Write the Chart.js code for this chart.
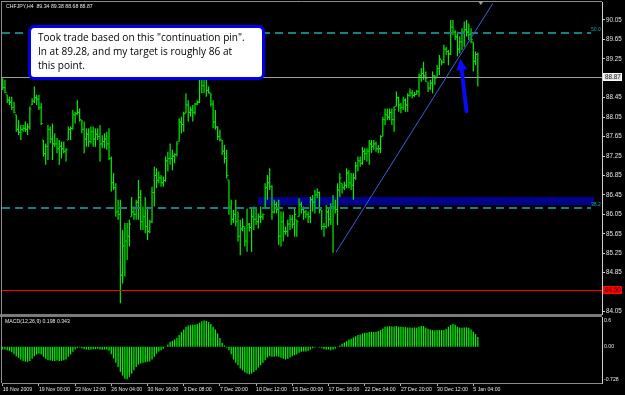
<!DOCTYPE html>
<html><head><meta charset="utf-8">
<script src="https://cdn.jsdelivr.net/npm/chart.js@4.4.1/dist/chart.umd.min.js"></script>
<style>
html,body{margin:0;padding:0;background:#000;overflow:hidden}
#wrap{position:relative;width:625px;height:395px;background:#000}
#a{position:absolute;left:0;top:0;width:625px;height:316px}
#b{position:absolute;left:0;top:316px;width:625px;height:79px}
</style></head><body>
<div id="wrap"><div id="a"><canvas id="ca"></canvas></div><div id="b"><canvas id="cb"></canvas></div></div>
<script>
// ---------------- DATA ----------------
const symbolTitle = 'CHFJPY,H4  89.34 89.38 88.68 88.87';
const macdTitle = 'MACD(12,26,9) 0.198 0.343';
const firstOpen = 88.80;
const highs = [
88.85,88.82,88.51,88.47,88.47,88.37,88.10,87.99,87.89,87.89,
87.96,87.92,88.27,88.44,88.68,88.51,88.51,88.34,87.58,87.51,
87.89,87.86,87.92,87.72,87.62,87.58,87.55,87.55,87.41,87.86,
87.86,88.20,88.16,88.40,88.23,87.99,87.96,87.82,87.82,87.86,
87.86,87.82,87.82,87.89,87.68,87.72,87.75,87.82,87.24,86.90,
86.69,86.35,86.35,85.73,85.87,85.87,85.94,86.41,86.21,86.35,
86.76,86.55,86.21,86.41,86.21,85.94,86.62,87.03,87.00,86.93,
86.86,86.83,87.24,87.34,87.51,87.38,87.31,87.55,88.03,88.06,
88.16,88.54,88.40,88.27,88.30,88.34,88.40,89.00,89.10,89.00,
89.05,88.68,88.54,88.40,88.20,87.86,87.79,87.58,87.48,87.38,
86.76,86.35,86.14,86.35,86.11,85.94,85.97,85.80,86.17,85.87,
86.17,86.21,86.17,86.07,86.21,86.07,86.69,86.86,87.00,86.65,
86.35,86.31,86.35,86.11,86.11,85.80,85.94,86.04,86.04,86.17,
85.94,86.38,86.31,86.21,86.14,86.11,86.41,86.45,86.55,86.59,
86.52,86.14,85.87,86.24,86.17,86.28,86.45,86.35,86.69,86.90,
86.69,86.72,87.00,86.96,86.90,86.90,87.13,87.24,87.24,87.44,
87.41,87.41,87.58,87.58,87.58,87.55,87.48,87.68,88.06,88.23,
88.23,88.23,88.23,88.27,88.58,88.47,88.34,88.47,88.44,88.54,
88.64,88.61,88.57,88.61,88.95,89.06,89.19,88.99,88.78,88.82,
88.99,88.92,89.12,89.33,89.23,89.54,89.50,89.43,90.05,90.05,
89.84,89.81,89.71,89.88,90.02,90.05,89.98,89.88,89.60,89.40,
89.38];
const lows = [
88.61,88.54,88.34,88.30,88.20,88.13,87.75,87.68,87.58,87.75,
87.75,87.68,87.79,88.30,88.34,88.30,88.20,87.89,87.24,87.07,
87.17,87.51,87.17,87.44,87.31,87.07,87.20,87.31,87.14,87.58,
87.58,87.79,87.92,88.10,87.96,87.72,87.31,87.44,87.44,87.51,
87.44,87.44,87.58,87.14,87.41,87.41,87.38,87.17,86.52,86.55,
86.00,85.94,84.22,84.63,84.77,85.11,85.39,86.00,85.94,85.94,
85.94,85.73,85.73,85.66,85.52,85.66,85.87,86.21,86.59,86.69,
86.62,86.62,86.72,86.93,87.07,86.96,87.10,87.24,87.55,87.72,
87.75,88.13,87.96,88.06,87.96,88.10,88.30,88.34,88.54,88.54,
88.47,88.54,88.27,87.82,87.79,87.58,87.55,87.27,87.10,86.79,
86.04,85.83,85.87,85.80,85.49,85.21,85.70,85.39,85.28,85.70,
85.28,85.73,85.83,85.76,85.87,85.94,86.17,86.35,86.55,85.94,
86.07,86.07,85.42,85.39,85.49,85.63,85.59,85.73,85.76,85.59,
85.59,86.00,86.07,85.94,85.97,85.87,85.87,86.11,86.07,86.38,
86.07,85.73,85.59,85.76,85.80,85.83,85.26,86.07,85.83,86.41,
86.48,86.55,86.59,86.59,86.55,86.35,86.76,86.93,87.03,87.07,
87.17,87.14,87.07,87.31,87.38,87.34,87.31,87.31,87.65,87.89,
87.99,87.99,87.89,87.75,88.27,88.16,88.13,88.20,88.16,88.16,
88.47,88.44,88.47,88.51,88.47,88.78,88.82,88.78,88.57,88.61,
88.54,88.71,88.88,88.92,89.12,89.16,89.33,89.12,89.33,89.74,
89.64,89.30,89.36,89.43,89.50,89.71,89.64,89.57,88.99,89.12,
88.68];
const closes = [
88.66,88.56,88.40,88.36,88.25,88.15,87.80,87.74,87.80,87.82,
87.80,87.85,88.22,88.38,88.45,88.42,88.25,87.92,87.30,87.45,
87.80,87.60,87.50,87.50,87.40,87.45,87.40,87.35,87.38,87.80,
87.82,88.10,88.12,88.15,88.00,87.80,87.60,87.70,87.55,87.75,
87.60,87.70,87.65,87.50,87.55,87.60,87.50,87.20,86.70,86.60,
86.10,86.05,84.80,85.40,85.50,85.60,85.85,86.10,86.05,86.30,
86.40,85.90,86.00,85.80,85.70,85.90,86.50,86.85,86.75,86.80,
86.70,86.75,87.15,87.20,87.20,87.25,87.28,87.50,87.95,87.90,
88.12,88.30,88.15,88.20,88.15,88.32,88.36,88.90,88.70,88.85,
88.60,88.56,88.32,87.95,87.85,87.65,87.60,87.35,87.20,86.85,
86.20,85.95,86.05,85.90,85.60,85.75,85.80,85.50,85.85,85.78,
86.00,85.95,85.90,86.00,86.00,86.05,86.60,86.70,86.62,86.10,
86.25,86.15,85.60,85.90,85.70,85.70,85.85,85.95,85.85,86.05,
85.90,86.25,86.15,86.10,86.05,86.00,86.35,86.30,86.45,86.50,
86.15,85.80,85.80,86.10,85.95,86.20,86.20,86.15,86.55,86.80,
86.60,86.65,86.90,86.70,86.65,86.80,87.05,87.15,87.10,87.35,
87.30,87.35,87.50,87.45,87.50,87.40,87.40,87.65,88.00,88.10,
88.05,88.15,88.00,88.20,88.45,88.30,88.25,88.40,88.30,88.50,
88.55,88.50,88.52,88.58,88.90,88.95,88.90,88.85,88.65,88.75,
88.90,88.85,89.05,89.25,89.18,89.45,89.40,89.35,89.90,89.80,
89.70,89.45,89.60,89.80,89.85,89.80,89.75,89.65,89.20,89.34,
88.87];
const macdHist = [
-0.054,-0.054,-0.067,-0.081,-0.108,-0.148,-0.189,-0.222,-0.256,-0.283,
-0.296,-0.303,-0.283,-0.242,-0.189,-0.155,-0.135,-0.155,-0.202,-0.242,
-0.269,-0.276,-0.283,-0.283,-0.276,-0.283,-0.283,-0.269,-0.256,-0.202,
-0.155,-0.101,-0.054,-0.020,-0.013,-0.027,-0.047,-0.054,-0.061,-0.054,
-0.047,-0.047,-0.040,-0.054,-0.061,-0.054,-0.054,-0.081,-0.148,-0.236,
-0.323,-0.404,-0.505,-0.579,-0.640,-0.653,-0.606,-0.539,-0.471,-0.404,
-0.357,-0.337,-0.323,-0.310,-0.303,-0.296,-0.256,-0.202,-0.135,-0.094,
-0.067,-0.040,0.004,0.047,0.101,0.121,0.148,0.175,0.236,0.296,
0.350,0.404,0.431,0.438,0.444,0.444,0.458,0.485,0.512,0.532,
0.519,0.498,0.458,0.404,0.350,0.269,0.175,0.081,0.027,-0.013,
-0.067,-0.148,-0.256,-0.323,-0.370,-0.438,-0.471,-0.512,-0.539,-0.552,
-0.539,-0.505,-0.471,-0.418,-0.370,-0.323,-0.269,-0.215,-0.189,-0.202,
-0.202,-0.189,-0.202,-0.222,-0.242,-0.256,-0.242,-0.215,-0.189,-0.168,
-0.148,-0.121,-0.101,-0.094,-0.094,-0.081,-0.054,-0.027,-0.013,0.003,
-0.013,-0.020,-0.047,-0.054,-0.054,-0.067,-0.054,-0.034,-0.007,0.027,
0.061,0.088,0.114,0.148,0.162,0.189,0.215,0.236,0.249,0.269,
0.283,0.283,0.296,0.303,0.296,0.303,0.316,0.337,0.370,0.404,
0.411,0.418,0.411,0.411,0.418,0.404,0.404,0.397,0.397,0.391,
0.391,0.384,0.391,0.384,0.404,0.418,0.418,0.391,0.364,0.350,
0.337,0.330,0.337,0.337,0.337,0.337,0.364,0.404,0.438,0.458,
0.444,0.404,0.391,0.384,0.391,0.391,0.384,0.350,0.303,0.256,
0.198];
const timeLabels = ['16 Nov 2009','19 Nov 00:00','23 Nov 12:00','26 Nov 04:00','30 Nov 16:00','3 Dec 08:00','7 Dec 20:00','10 Dec 12:00','15 Dec 00:00','17 Dec 16:00','22 Dec 04:00','27 Dec 20:00','30 Dec 12:00','5 Jan 04:00'];
const timeLabelBars = [0,16,32,48,64,80,96,112,128,144,160,176,192,208];
const priceTicks = [90.05,89.65,89.25,88.85,88.45,88.05,87.65,87.25,86.85,86.45,86.05,85.65,85.25,84.85,84.45,84.05];
const macdTickValues = [0.6,0.00,-0.728];
const macdTickLabels = ['0.6','0.00','-0.728'];
const bidPrice = 88.87;
const stopPrice = 84.50;
const fib50 = 89.78, fib382 = 86.19;
const fibLabels = ['50.0','38.2'];
const zoneTop = 86.415, zoneBottom = 86.235;
const trendStart = {x:147.3, y:85.27}, trendEnd = {x:216.6, y:90.39};
const arrowTail = {x:205.0, y:88.17}, arrowTip = {x:202.3, y:89.25};
const noteLines = ['Took trade based on this "continuation pin".','In at 89.28, and my target is roughly 86 at','this point.'];

// ---------------- LAYOUT / STYLE ----------------
const XMIN = -0.31, XMAX = 264.88;
const PMIN = 84.00, PMAX = 90.42;
const MMIN = -0.728, MMAX = 0.6;
const ZONE_X0 = 112.9, ZONE_X1 = 261.3, FIB_X1 = 260.0, SHIFT_X = 211.3;
const SANS = '"Liberation Sans",sans-serif';
const TXT = '#e6e6e6';
const BAR = '#00f000';
const FRAME = '#8c8c8c';

const mctx = document.createElement('canvas').getContext('2d');
function fitSize(text, targetW, base){ mctx.font = base + 'px ' + SANS; return base * targetW / mctx.measureText(text).width; }
const SMALL = fitSize('16 Nov 2009', 29.5, 7);
const PRICE_FS = fitSize('90.05', 15.7, 7);

const opens = closes.map((c,i)=>{
  const prev = i===0 ? firstOpen : closes[i-1];
  return Math.min(highs[i], Math.max(lows[i], prev));
});

function hLine(ctx, y, v, x0, x1, color, dash, w){
  const lw = w || 1;
  const py = Math.round(y.getPixelForValue(v)) + (lw % 2 ? 0.5 : 0);
  ctx.save(); ctx.strokeStyle = color; ctx.lineWidth = lw; ctx.setLineDash(dash || []);
  ctx.beginPath(); ctx.moveTo(x0, py); ctx.lineTo(x1, py); ctx.stroke(); ctx.restore();
}

const mainPlugin = {
  id:'main',
  beforeDatasetsDraw(chart){
    const {ctx, scales:{x,y}} = chart;
    ctx.save();
    ctx.fillStyle = '#00008c';
    const x0 = Math.round(x.getPixelForValue(ZONE_X0)), x1 = Math.round(x.getPixelForValue(ZONE_X1));
    const y0 = Math.round(y.getPixelForValue(zoneTop)), y1 = Math.round(y.getPixelForValue(zoneBottom));
    ctx.fillRect(x0, y0, x1-x0, y1-y0);
    ctx.restore();
  },
  afterDatasetDraw(chart, args){
    if (args.meta.type !== 'bar') return;
    const {ctx, scales:{x,y}, chartArea:ca} = chart;
    ctx.save();
    ctx.fillStyle = BAR;
    for (let i=0;i<highs.length;i++){
      const px = x.getPixelForValue(i);
      ctx.fillRect(px-1.6, y.getPixelForValue(opens[i])-0.5, 1.1, 1);
      ctx.fillRect(px+0.5, y.getPixelForValue(closes[i])-0.5, 1.1, 1);
    }
    ctx.restore();
    hLine(ctx, y, bidPrice, ca.left, ca.right, '#a0a0a0');
    hLine(ctx, y, stopPrice, ca.left, ca.right, '#ff0000');
    hLine(ctx, y, fib50, ca.left, x.getPixelForValue(FIB_X1), '#178080', [8,5], 2);
    hLine(ctx, y, fib382, ca.left, x.getPixelForValue(FIB_X1), '#178080', [8,5], 2);
  },
  afterDraw(chart){
    const {ctx, scales:{x,y}, chartArea:ca} = chart;
    ctx.save();
    ctx.strokeStyle = FRAME; ctx.lineWidth = 1;
    ctx.beginPath(); ctx.moveTo(1, 1.5); ctx.lineTo(ca.right, 1.5); ctx.moveTo(1.5, 1); ctx.lineTo(1.5, 316); ctx.stroke();
    ctx.fillStyle = '#7a7a7a'; ctx.fillRect(0, 314, ca.right, 2);
    ctx.font = SMALL.toFixed(2) + 'px ' + SANS; ctx.fillStyle = '#1aa0a0'; ctx.textAlign = 'right'; ctx.textBaseline = 'bottom';
    ctx.fillText(fibLabels[0], ca.right-1, y.getPixelForValue(fib50)-0.5);
    ctx.fillText(fibLabels[1], ca.right-1, y.getPixelForValue(fib382)-0.5);
    const tx = x.getPixelForValue(arrowTail.x), ty = y.getPixelForValue(arrowTail.y);
    const hx = x.getPixelForValue(arrowTip.x), hy = y.getPixelForValue(arrowTip.y);
    const dx = hx-tx, dy = hy-ty, L = Math.hypot(dx,dy), ux = dx/L, uy = dy/L;
    const headL = 11, headW = 5.5;
    const bx = hx-ux*headL, by = hy-uy*headL;
    ctx.strokeStyle = '#0a0af5'; ctx.fillStyle = '#0a0af5'; ctx.lineWidth = 4; ctx.lineCap = 'round';
    ctx.beginPath(); ctx.moveTo(tx,ty); ctx.lineTo(bx,by); ctx.stroke();
    ctx.beginPath(); ctx.moveTo(hx,hy); ctx.lineTo(bx-uy*headW, by+ux*headW); ctx.lineTo(bx+uy*headW, by-ux*headW); ctx.closePath(); ctx.fill();
    const sx = x.getPixelForValue(SHIFT_X);
    ctx.fillStyle = '#a0a0a0'; ctx.beginPath(); ctx.moveTo(sx-2.5, 1.5); ctx.lineTo(sx+2.5, 1.5); ctx.lineTo(sx, 5); ctx.closePath(); ctx.fill();
    const lab = (v, bg, fg, border) => {
      const py = Math.round(y.getPixelForValue(v));
      ctx.fillStyle = bg; ctx.fillRect(ca.right+1, py-4, 19, 8);
      if (border){ ctx.strokeStyle = border; ctx.lineWidth = 1; ctx.strokeRect(ca.right+1.5, py-3.5, 18, 7); }
      ctx.fillStyle = fg; ctx.font = PRICE_FS.toFixed(2) + 'px ' + SANS; ctx.textAlign='left'; ctx.textBaseline='middle';
      ctx.fillText(v.toFixed(2), ca.right+3, py+0.5);
    };
    lab(bidPrice, '#e4e4e4', '#202020', '#ffffff');
    lab(stopPrice, '#ff0000', '#300000', null);
    ctx.font = SMALL.toFixed(2) + 'px ' + SANS; ctx.fillStyle = TXT; ctx.textAlign='left'; ctx.textBaseline='middle';
    ctx.fillText(symbolTitle, 6, 7);
    const bx0 = ca.left + 26, by0 = ca.top + 23, bw = 237, bh = 55;
    ctx.fillStyle = '#ffffff'; ctx.strokeStyle = '#0000f0'; ctx.lineWidth = 3;
    ctx.beginPath(); ctx.roundRect(bx0+1.5, by0+1.5, bw-3, bh-3, 5); ctx.fill(); ctx.stroke();
    ctx.font = '11px "Open Sans",sans-serif';
    const w = ctx.measureText(noteLines[0]).width;
    const fs = 11 * 207 / w;
    ctx.font = fs.toFixed(2) + 'px "Open Sans",sans-serif';
    ctx.fillStyle = '#000'; ctx.textBaseline = 'middle';
    noteLines.forEach((t,k)=> ctx.fillText(t, bx0+10, by0+13 + k*14));
    ctx.restore();
  }
};

new Chart(document.getElementById('ca'), {
  type:'bar',
  data:{datasets:[
    {type:'line', label:'trend', data:[trendStart, trendEnd], borderColor:'#3f5fd6', borderWidth:1, pointRadius:0, order:1},
    {type:'bar', label:'CHFJPY H4', data:highs.map((h,i)=>({x:i, y:[lows[i], h]})), backgroundColor:BAR, barThickness:1.2, inflateAmount:0, borderWidth:0, grouped:false, order:10}
  ]},
  options:{
    responsive:true, maintainAspectRatio:false, animation:false, events:[],
    layout:{padding:{left:2, top:2, right:0, bottom:2}},
    plugins:{legend:{display:false}, tooltip:{enabled:false}},
    scales:{
      x:{type:'linear', display:false, offset:false, grid:{offset:false}, min:XMIN, max:XMAX},
      y:{position:'right', min:PMIN, max:PMAX,
         afterBuildTicks:s=>{ s.ticks = priceTicks.map(v=>({value:v})); },
         afterFit:s=>{ s.width = 23; s.paddingTop = 0; s.paddingBottom = 0; },
         ticks:{callback:v=>Number(v).toFixed(2), color:TXT, padding:1, autoSkip:false, font:{family:SANS, size:PRICE_FS}},
         grid:{drawOnChartArea:false, drawTicks:true, tickLength:3, color:'#d0d0d0'},
         border:{display:true, color:'#d0d0d0', width:1}}
    }
  },
  plugins:[mainPlugin]
});

const macdPlugin = {
  id:'macd',
  afterDraw(chart){
    const {ctx, scales:{y}, chartArea:ca} = chart;
    ctx.save();
    ctx.fillStyle = '#7a7a7a'; ctx.fillRect(0, 0, ca.right, 1);
    ctx.strokeStyle = FRAME; ctx.beginPath(); ctx.moveTo(1.5, 0); ctx.lineTo(1.5, ca.bottom); ctx.stroke();
    ctx.font = SMALL.toFixed(2) + 'px ' + SANS; ctx.fillStyle = TXT; ctx.textAlign='left'; ctx.textBaseline='middle';
    ctx.fillText(macdTitle, 5, 6);
    const offs = [3.7, 0, -3];
    macdTickValues.forEach((v,k)=>{
      ctx.fillText(macdTickLabels[k], ca.right+2, y.getPixelForValue(v)+offs[k]);
    });
    ctx.restore();
  }
};

new Chart(document.getElementById('cb'), {
  type:'bar',
  data:{datasets:[
    {label:'MACD', data:macdHist.map((v,i)=>({x:i,y:v})), backgroundColor:'#00f000', barThickness:1.3, inflateAmount:0, borderWidth:0}
  ]},
  options:{
    responsive:true, maintainAspectRatio:false, animation:false, events:[],
    layout:{padding:{left:2, top:1, right:0, bottom:0}},
    plugins:{legend:{display:false}, tooltip:{enabled:false}},
    scales:{
      x:{type:'linear', position:'bottom', offset:false, min:XMIN, max:XMAX,
         afterBuildTicks:s=>{ s.ticks = timeLabelBars.map(v=>({value:v})); },
         afterFit:s=>{ s.height = 12; s.paddingLeft = 0; s.paddingRight = 0; },
         ticks:{callback:(v,idx)=>timeLabels[idx], align:'start', maxRotation:0, minRotation:0, autoSkip:false, padding:0, color:TXT, font:{family:SANS, size:SMALL}},
         grid:{offset:false, drawOnChartArea:false, drawTicks:true, tickLength:3, color:'#b0b0b0'},
         border:{display:true, color:FRAME, width:1}},
      y:{position:'right', min:MMIN, max:MMAX,
         afterFit:s=>{ s.width = 23; s.paddingTop = 0; s.paddingBottom = 0; },
         ticks:{display:false}, grid:{display:false},
         border:{display:true, color:'#d0d0d0', width:1}}
    }
  },
  plugins:[macdPlugin]
});
</script>
</body></html>
